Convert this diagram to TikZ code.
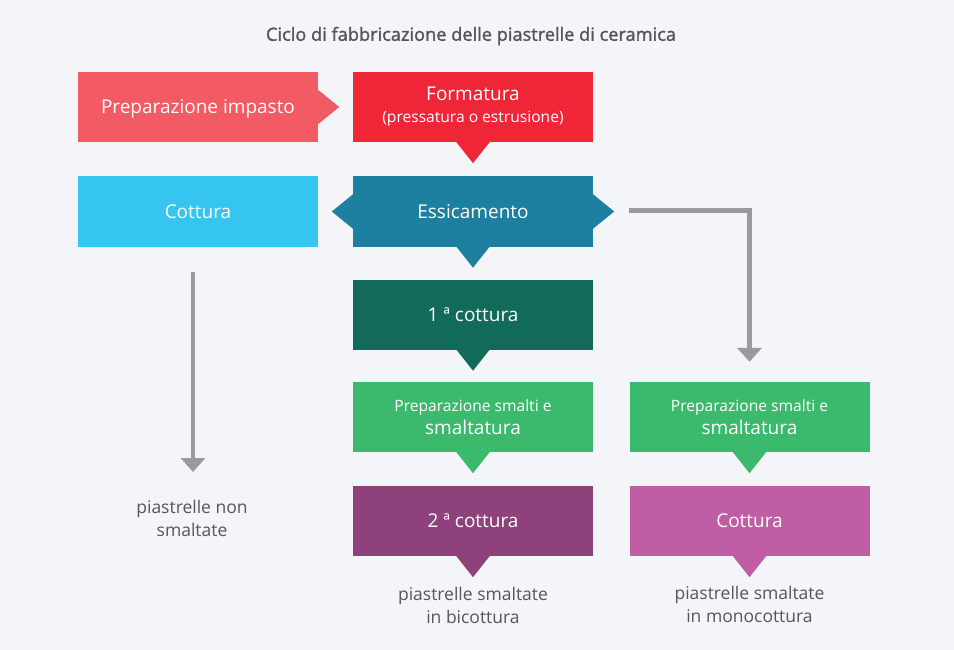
\documentclass[tikz,border=0pt]{standalone}
\usepackage{fontspec}
\setmainfont{Open Sans}
\newfontfamily\titlefont[FakeBold=1.5]{Open Sans}
\usepackage{tikz}
\usetikzlibrary{calc,positioning,arrows.meta}
\usepackage{xcolor}
\definecolor{bgcol}{HTML}{F4F5F9}
\definecolor{prepcol}{HTML}{F25A64}
\definecolor{formcol}{HTML}{EE2638}
\definecolor{cottcol}{HTML}{35C5EE}
\definecolor{essiccol}{HTML}{1E80A0}
\definecolor{primacol}{HTML}{126B5A}
\definecolor{smaltcol}{HTML}{3BBA6E}
\definecolor{secondacol}{HTML}{8E417A}
\definecolor{monocol}{HTML}{C05EA5}
\definecolor{arrowgray}{HTML}{9A9A9E}
\definecolor{textgray}{HTML}{555658}

\newcommand{\tipS}[2]{\fill[#2] ([xshift=-17pt,yshift=0.5pt]#1.south) -- ([yshift=-21pt]#1.south) -- ([xshift=17pt,yshift=0.5pt]#1.south) -- cycle;}
\newcommand{\tipE}[2]{\fill[#2] ([yshift=17.5pt,xshift=-0.5pt]#1.east) -- ([xshift=21pt]#1.east) -- ([yshift=-17.5pt,xshift=-0.5pt]#1.east) -- cycle;}
\newcommand{\tipW}[2]{\fill[#2] ([yshift=17.5pt,xshift=0.5pt]#1.west) -- ([xshift=-21pt]#1.west) -- ([yshift=-17.5pt,xshift=0.5pt]#1.west) -- cycle;}

\tikzset{
  box/.style={minimum width=240pt, minimum height=70pt, inner sep=0pt, text=white,
    align=center, font=\fontsize{19}{22}\selectfont},
  oneline/.style={text height=14.5pt, text depth=1pt},
  outtext/.style={text=textgray, align=center, font=\fontsize{17.5}{22.5}\selectfont},
  grayarrow/.style={draw=arrowgray, line width=4.5pt, -{Triangle[width=24pt,length=14pt]}}
}

\begin{document}
\begin{tikzpicture}[x=1pt,y=-1pt]
  \fill[bgcol] (0,0) rectangle (954,650);
  \node[text=textgray, font=\titlefont\fontsize{18.2}{22}\selectfont] (title) at (471,36) {Ciclo di fabbricazione delle piastrelle di ceramica};

  % first row
  \node[box, oneline, fill=prepcol] (prep) at (198,107) {Preparazione impasto};
  \tipE{prep}{prepcol}
  \node[box, fill=formcol] (form) at (473,107) {Formatura\\[0pt]{\fontsize{15.6}{18}\selectfont (pressatura o estrusione)}};
  \tipS{form}{formcol}

  % second row
  \node[box, oneline, fill=cottcol] (cott) at (198,211.5) {Cottura};
  \node[box, oneline, fill=essiccol] (essic) at (473,211.5) {Essicamento};
  \tipW{essic}{essiccol}
  \tipE{essic}{essiccol}
  \tipS{essic}{essiccol}

  % central column
  \node[box, oneline, fill=primacol] (prima) at (473,314.5) {1 ª cottura};
  \tipS{prima}{primacol}
  \node[box, fill=smaltcol] (smaltiA) at (473,417) {{\fontsize{15.6}{18}\selectfont Preparazione smalti e}\\[1.5pt]smaltatura};
  \tipS{smaltiA}{smaltcol}
  \node[box, oneline, fill=secondacol] (seconda) at (473,521) {2 ª cottura};
  \tipS{seconda}{secondacol}

  % right column
  \node[box, fill=smaltcol] (smaltiB) at (749.5,417) {{\fontsize{15.6}{18}\selectfont Preparazione smalti e}\\[1.5pt]smaltatura};
  \tipS{smaltiB}{smaltcol}
  \node[box, oneline, fill=monocol] (mono) at (749.5,521) {Cottura};
  \tipS{mono}{monocol}

  % results
  \node[outtext] (nonsmalt) at (192,518.5) {piastrelle non\\smaltate};
  \node[outtext] (bicott) at (473,605.5) {piastrelle smaltate\\in bicottura};
  \node[outtext] (monocott) at (749.5,604.5) {piastrelle smaltate\\in monocottura};

  % gray connectors
  \coordinate (essicout) at (629,210.5);
  \draw[grayarrow] (essicout) -| ([yshift=20pt]smaltiB.north);
  \coordinate (cottout) at (193,272);
  \coordinate (cottend) at (193,472);
  \draw[grayarrow] (cottout) -- (cottend);
\end{tikzpicture}
\end{document}
